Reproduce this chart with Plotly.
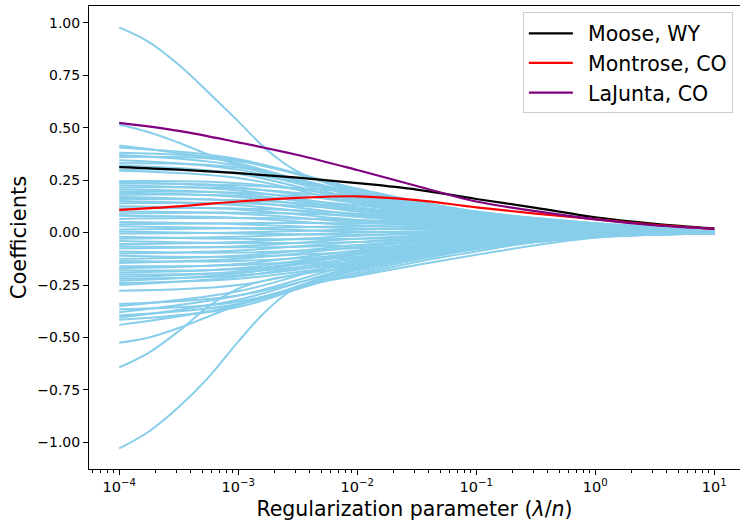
import plotly.graph_objects as go

# Regularization grids (lambda / n)
LAMBDA_COARSE = [1e-4, 1e-3, 1e-2, 1e-1, 1.0, 10.0]
LAMBDA_HALF = [1e-4, 3.1623e-4, 1e-3, 3.1623e-3, 1e-2, 3.1623e-2,
               1e-1, 3.1623e-1, 1.0, 3.1623, 10.0]
LAMBDA_STEEP = [1e-4, 1.7783e-4, 3.1623e-4, 5.6234e-4, 1e-3, 1.7783e-3,
                3.1623e-3, 1e-2, 3.1623e-2, 1e-1, 3.1623e-1, 1.0, 3.1623, 10.0]

# Axis ticks
X_TICKS = [1e-4, 1e-3, 1e-2, 1e-1, 1.0, 10.0]
X_TICK_LABELS = ["10<sup>−4</sup>", "10<sup>−3</sup>", "10<sup>−2</sup>",
                 "10<sup>−1</sup>", "10<sup>0</sup>", "10<sup>1</sup>"]
Y_TICKS = [-1.0, -0.75, -0.5, -0.25, 0.0, 0.25, 0.5, 0.75, 1.0]

# Highlighted stations (values on LAMBDA_HALF)
STATIONS = ["Moose, WY", "Montrose, CO", "LaJunta, CO"]
STATION_COLORS = ["black", "red", "purple"]
MOOSE = [0.312, 0.300, 0.283, 0.262, 0.236, 0.205, 0.160, 0.118, 0.073, 0.042, 0.020]
MONTROSE = [0.108, 0.125, 0.148, 0.165, 0.173, 0.155, 0.120, 0.090, 0.064, 0.037, 0.018]
LAJUNTA = [0.523, 0.485, 0.430, 0.370, 0.298, 0.222, 0.148, 0.102, 0.063, 0.035, 0.018]

# Other stations with large unregularized coefficients (values on LAMBDA_STEEP)
STEEP_PATHS = [
    [0.978, 0.908, 0.800, 0.668, 0.530, 0.390, 0.290, 0.190, 0.130, 0.080, 0.045, 0.020, 0.008, 0.003],
    [0.515, 0.478, 0.428, 0.372, 0.322, 0.280, 0.245, 0.180, 0.120, 0.075, 0.040, 0.018, 0.007, 0.002],
    [-0.643, -0.572, -0.470, -0.352, -0.268, -0.225, -0.200, -0.160, -0.110, -0.065, -0.035, -0.018, -0.006, -0.002],
    [-0.525, -0.500, -0.455, -0.400, -0.345, -0.300, -0.260, -0.200, -0.140, -0.090, -0.045, -0.020, -0.008, -0.003],
    [-1.029, -0.948, -0.832, -0.690, -0.520, -0.365, -0.260, -0.207, -0.155, -0.106, -0.060, -0.025, -0.008, -0.002],
]

# Remaining stations (values on LAMBDA_COARSE)
UPPER_PATHS = [
    [0.415, 0.330, 0.170, 0.070, 0.025, 0.008],
    [0.405, 0.350, 0.200, 0.085, 0.030, 0.010],
    [0.380, 0.345, 0.210, 0.095, 0.040, 0.013],
    [0.370, 0.320, 0.180, 0.075, 0.030, 0.010],
    [0.360, 0.340, 0.205, 0.100, 0.045, 0.015],
    [0.345, 0.300, 0.160, 0.065, 0.025, 0.008],
    [0.330, 0.310, 0.190, 0.090, 0.040, 0.014],
    [0.320, 0.280, 0.150, 0.060, 0.020, 0.007],
    [0.300, 0.285, 0.180, 0.085, 0.035, 0.012],
    [0.295, 0.260, 0.140, 0.055, 0.020, 0.006],
]
BULK_PATHS = [
    [0.245, 0.235, 0.170, 0.085, 0.038, 0.014],
    [0.240, 0.215, 0.140, 0.070, 0.030, 0.011],
    [0.235, 0.225, 0.190, 0.100, 0.045, 0.016],
    [0.225, 0.200, 0.120, 0.055, 0.025, 0.009],
    [0.215, 0.210, 0.160, 0.080, 0.036, 0.013],
    [0.205, 0.185, 0.110, 0.050, 0.022, 0.008],
    [0.195, 0.190, 0.150, 0.075, 0.034, 0.012],
    [0.190, 0.170, 0.100, 0.045, 0.020, 0.007],
    [0.180, 0.175, 0.130, 0.065, 0.030, 0.011],
    [0.170, 0.150, 0.085, 0.040, 0.018, 0.007],
    [0.160, 0.155, 0.120, 0.060, 0.028, 0.010],
    [0.150, 0.130, 0.075, 0.035, 0.016, 0.006],
    [0.140, 0.140, 0.110, 0.058, 0.027, 0.010],
    [0.125, 0.110, 0.060, 0.030, 0.014, 0.006],
    [0.115, 0.115, 0.090, 0.050, 0.024, 0.009],
    [0.100, 0.090, 0.050, 0.025, 0.012, 0.005],
    [0.090, 0.095, 0.080, 0.045, 0.022, 0.008],
    [0.080, 0.070, 0.035, 0.018, 0.010, 0.004],
    [0.065, 0.070, 0.060, 0.038, 0.020, 0.008],
    [0.050, 0.040, 0.020, 0.012, 0.008, 0.004],
    [0.040, 0.045, 0.045, 0.030, 0.017, 0.007],
    [0.030, 0.020, 0.005, 0.005, 0.005, 0.003],
    [0.015, 0.020, 0.030, 0.025, 0.015, 0.006],
    [0.005, -0.005, -0.010, -0.002, 0.003, 0.003],
    [-0.005, 0.000, 0.015, 0.020, 0.013, 0.006],
    [-0.020, -0.030, -0.030, -0.012, 0.000, 0.002],
    [-0.030, -0.020, 0.000, 0.010, 0.010, 0.005],
    [-0.040, -0.050, -0.045, -0.020, -0.004, 0.001],
    [-0.055, -0.045, -0.015, 0.005, 0.008, 0.004],
    [-0.065, -0.070, -0.060, -0.028, -0.007, 0.000],
    [-0.075, -0.065, -0.030, -0.005, 0.005, 0.004],
    [-0.090, -0.095, -0.075, -0.035, -0.010, -0.001],
    [-0.100, -0.085, -0.045, -0.012, 0.002, 0.003],
    [-0.110, -0.115, -0.090, -0.042, -0.012, -0.002],
    [-0.125, -0.110, -0.060, -0.020, 0.000, 0.002],
    [-0.135, -0.135, -0.105, -0.050, -0.015, -0.003],
    [-0.145, -0.125, -0.070, -0.025, -0.002, 0.002],
    [-0.160, -0.155, -0.115, -0.055, -0.016, -0.003],
    [-0.170, -0.150, -0.085, -0.030, -0.004, 0.001],
    [-0.180, -0.175, -0.125, -0.060, -0.018, -0.004],
    [-0.190, -0.170, -0.095, -0.035, -0.006, 0.001],
    [-0.200, -0.190, -0.135, -0.065, -0.020, -0.004],
    [-0.210, -0.185, -0.100, -0.040, -0.008, 0.000],
    [-0.220, -0.205, -0.140, -0.070, -0.021, -0.005],
    [-0.230, -0.195, -0.105, -0.045, -0.010, 0.000],
    [-0.240, -0.220, -0.150, -0.075, -0.022, -0.005],
    [-0.250, -0.210, -0.120, -0.050, -0.012, -0.001],
]
LOWER_PATHS = [
    [-0.277, -0.250, -0.140, -0.055, -0.012, -0.001],
    [-0.340, -0.300, -0.170, -0.070, -0.018, -0.003],
    [-0.350, -0.280, -0.130, -0.045, -0.008, 0.000],
    [-0.365, -0.330, -0.180, -0.075, -0.020, -0.004],
    [-0.380, -0.300, -0.150, -0.060, -0.014, -0.002],
    [-0.395, -0.340, -0.190, -0.080, -0.021, -0.005],
    [-0.405, -0.320, -0.160, -0.065, -0.016, -0.003],
    [-0.415, -0.355, -0.175, -0.070, -0.018, -0.004],
    [-0.440, -0.345, -0.165, -0.060, -0.013, -0.002],
]

BLUE = "#87ceeb"
FONT = "DejaVu Sans"

fig = go.Figure()


def add_path(x, y, color, name=None, legend=False, width=2.0):
    fig.add_trace(go.Scatter(
        x=x, y=y, mode="lines", name=name, showlegend=legend,
        line=dict(color=color, width=width, shape="spline", smoothing=1.0),
        hoverinfo="skip",
    ))


for path in UPPER_PATHS + BULK_PATHS + LOWER_PATHS:
    add_path(LAMBDA_COARSE, path, BLUE)
for path in STEEP_PATHS:
    add_path(LAMBDA_STEEP, path, BLUE)

# en space keeps a gap between the legend line sample and its label
for name, color, values in zip(STATIONS, STATION_COLORS, [MOOSE, MONTROSE, LAJUNTA]):
    add_path(LAMBDA_HALF, values, color, name="\u2002" + name, legend=True, width=2.2)

fig.update_layout(
    width=740, height=521,
    margin=dict(l=89, r=0, t=6, b=52),
    plot_bgcolor="white", paper_bgcolor="white",
    font=dict(family=FONT, size=14, color="black"),
    legend=dict(
        x=0.989, y=0.986, xanchor="right", yanchor="top",
        bgcolor="rgba(255,255,255,0.8)", bordercolor="#cccccc", borderwidth=1,
        font=dict(family=FONT, size=20.5), itemwidth=44, tracegroupgap=0,
    ),
)
fig.update_xaxes(
    type="log", range=[-4.254, 1.216],
    tickvals=X_TICKS, ticktext=X_TICK_LABELS, automargin=False,
    tickfont=dict(size=14.5),
    showgrid=False, zeroline=False, showline=True, linecolor="black",
    linewidth=1, mirror=True, ticks="outside", ticklen=5, tickwidth=1,
    tickcolor="black",
    minor=dict(ticks="outside", ticklen=3, tickwidth=1, tickcolor="black",
               dtick="D1", showgrid=False),
    title=dict(text="Regularization parameter (<i>λ</i>/<i>n</i>)",
               font=dict(family=FONT, size=20.5), standoff=8),
)
fig.update_yaxes(
    range=[-1.127, 1.080], tickvals=Y_TICKS, automargin=False,
    tickformat=".2f", showgrid=False, zeroline=False, showline=True,
    linecolor="black", linewidth=1, ticks="outside", ticklen=5, tickwidth=1,
    tickcolor="black",
    title=dict(text="Coefficients", font=dict(family=FONT, size=21), standoff=4),
)

fig.write_html("out.html")
